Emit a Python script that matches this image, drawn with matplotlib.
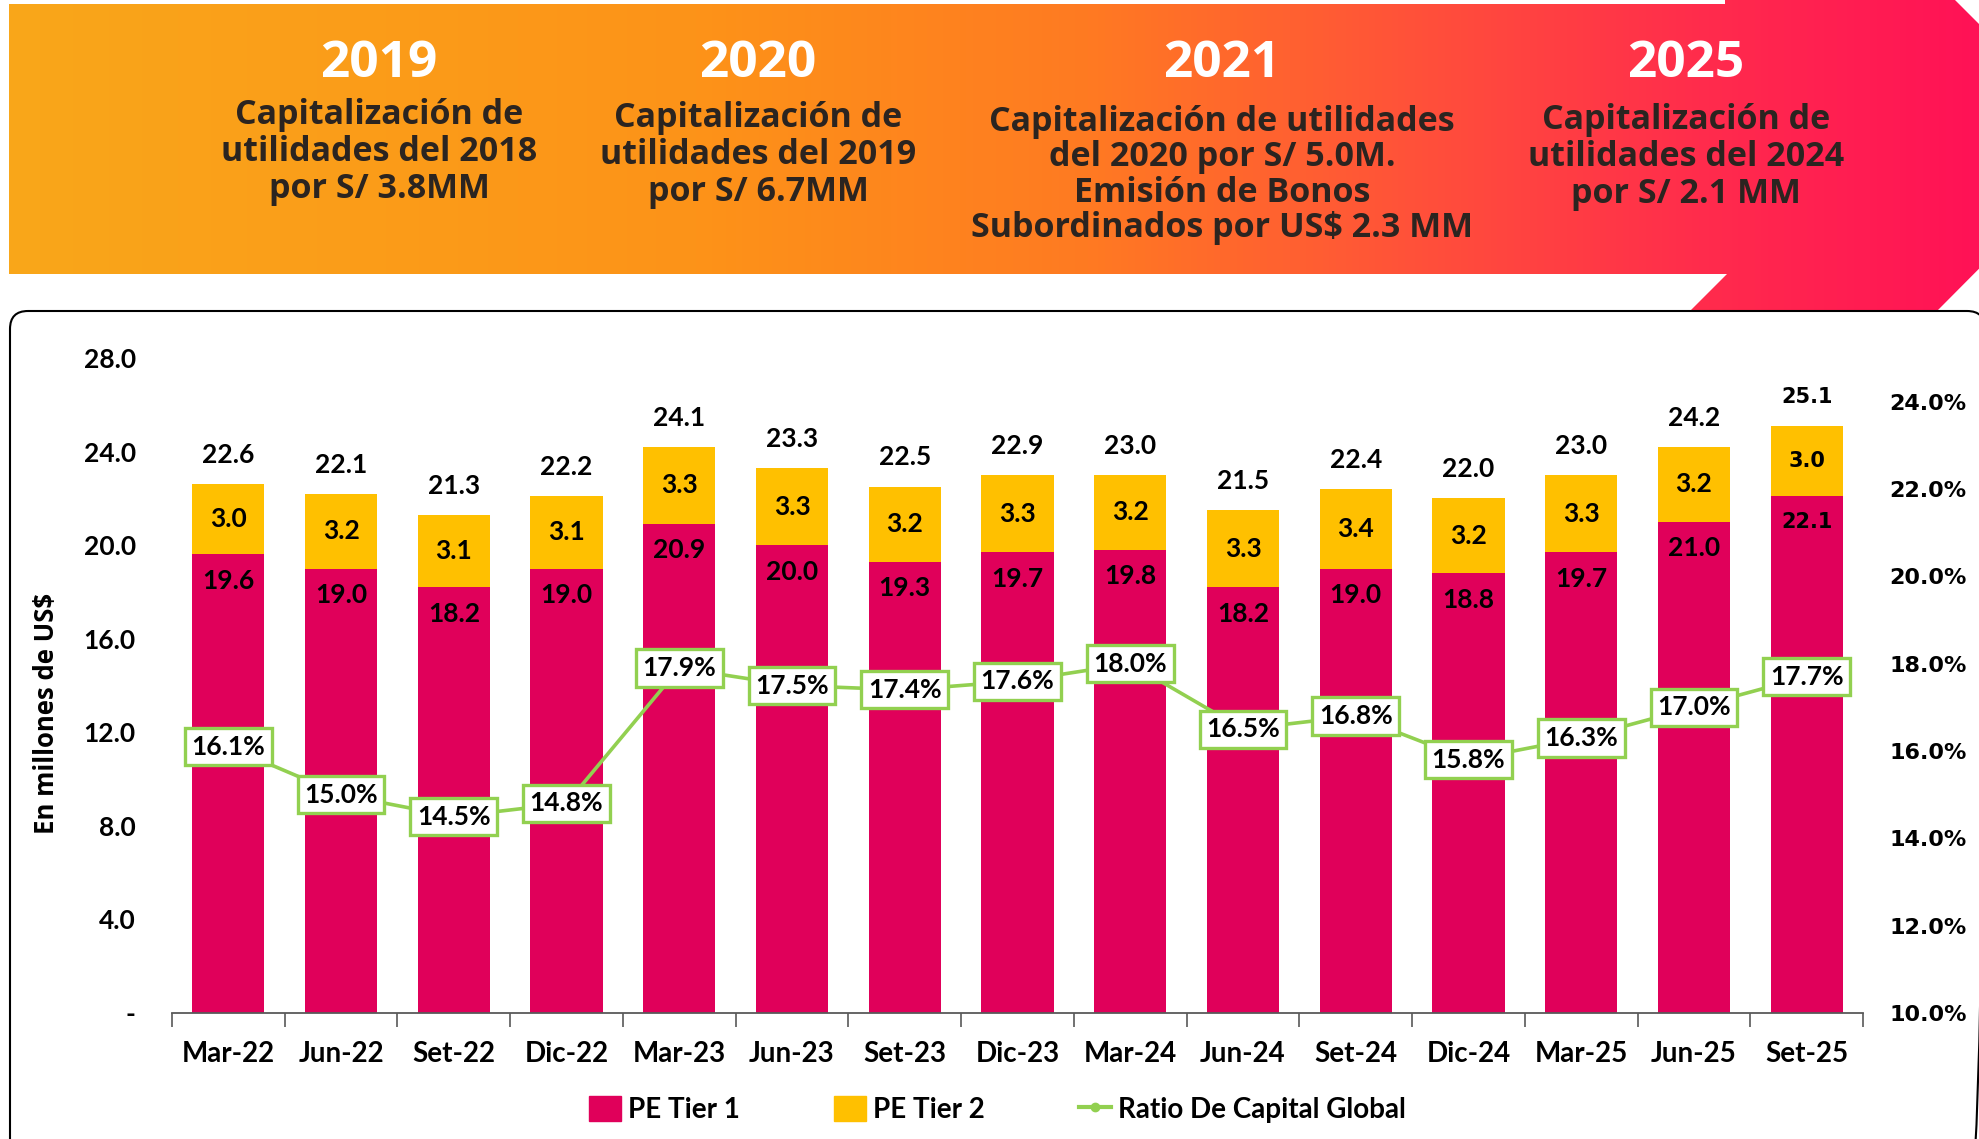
import numpy as np
import matplotlib
matplotlib.use('Agg')
import matplotlib.pyplot as plt
from matplotlib.patches import Polygon, FancyBboxPatch, Patch
from matplotlib.lines import Line2D
from matplotlib.colors import LinearSegmentedColormap

plt.rcParams['font.family'] = ['Lato', 'DejaVu Sans']
plt.rcParams['font.weight'] = 'bold'

# datos
periodos = ['Mar-22', 'Jun-22', 'Set-22', 'Dic-22', 'Mar-23', 'Jun-23', 'Set-23', 'Dic-23',
            'Mar-24', 'Jun-24', 'Set-24', 'Dic-24', 'Mar-25', 'Jun-25', 'Set-25']
tier1 = [19.6, 19.0, 18.2, 19.0, 20.9, 20.0, 19.3, 19.7, 19.8, 18.2, 19.0, 18.8, 19.7, 21.0, 22.1]
tier2 = [3.0, 3.2, 3.1, 3.1, 3.3, 3.3, 3.2, 3.3, 3.2, 3.3, 3.4, 3.2, 3.3, 3.2, 3.0]
total = [22.6, 22.1, 21.3, 22.2, 24.1, 23.3, 22.5, 22.9, 23.0, 21.5, 22.4, 22.0, 23.0, 24.2, 25.1]
ratio = [16.1, 15.0, 14.5, 14.8, 17.9, 17.5, 17.4, 17.6, 18.0, 16.5, 16.8, 15.8, 16.3, 17.0, 17.7]

hitos_anio = ['2019', '2020', '2021', '2025']
hitos_texto = ['Capitalización de\nutilidades del 2018\npor S/ 3.8MM',
               'Capitalización de\nutilidades del 2019\npor S/ 6.7MM',
               'Capitalización de utilidades\ndel 2020 por S/ 5.0M.\nEmisión de Bonos\nSubordinados por US$ 2.3 MM',
               'Capitalización de\nutilidades del 2024\npor S/ 2.1 MM']

izq_ticks = [0, 4, 8, 12, 16, 20, 24, 28]
izq_labels = ['-', '4.0', '8.0', '12.0', '16.0', '20.0', '24.0', '28.0']
der_ticks = [10, 12, 14, 16, 18, 20, 22, 24]

ROJO = '#E0005A'
AMARILLO = '#FFC000'
VERDE = '#92D050'

W, H = 1979, 1139
fig = plt.figure(figsize=(W / 100, H / 100), dpi=100)

# capa de fondo (banner y marco) en pixeles
ov = fig.add_axes([0, 0, 1, 1])
ov.set_xlim(0, W)
ov.set_ylim(H, 0)
ov.axis('off')
ov.set_zorder(0)

pts = [(9, 4), (1725, 4), (1725, 0), (1955, 0), (2101, 146), (1937, 311),
       (1690, 311), (1727, 274), (9, 274)]
forma = Polygon(pts, closed=True, fc='none', ec='none')
ov.add_patch(forma)
cmap = LinearSegmentedColormap.from_list('banner', [
    (0.0, '#F9A71A'), (0.35, '#FD9318'), (0.55, '#FF7A22'),
    (0.72, '#FF503A'), (0.86, '#FF2C4C'), (1.0, '#FF1256')])
grad = np.linspace(0, 1, 600).reshape(1, -1)
im = ov.imshow(grad, cmap=cmap, extent=(0, W, 320, 0), aspect='auto', zorder=1)
im.set_clip_path(forma)

xs = [379, 758, 1222, 1686]
ys_bloque = [152, 155, 175, 157]
interlineado = [1.13, 1.13, 1.06, 1.13]
for xc, yc, ls, anio, txt in zip(xs, ys_bloque, interlineado, hitos_anio, hitos_texto):
    ov.text(xc, 64, anio, color='white', fontsize=37, fontweight='bold',
            family='Open Sans', ha='center', va='center', zorder=3)
    ov.text(xc, yc, txt, color='#2b2420', fontsize=24.5, fontweight='bold',
            family='Open Sans', ha='center', va='center', linespacing=ls, zorder=3)

marco = FancyBboxPatch((10, 311), 1975, 900, boxstyle='round,pad=0,rounding_size=18',
                       fc='none', ec='black', lw=1.5, zorder=2)
ov.add_patch(marco)

# grafico principal
ax = fig.add_axes([0.0869, 0.1106, 0.9414 - 0.0869, 0.6857 - 0.1106])
ax.set_zorder(1)
ax.patch.set_visible(False)
x = np.arange(len(periodos))
ax.bar(x, tier1, width=0.64, color=ROJO, zorder=2)
ax.bar(x, tier2, width=0.64, bottom=tier1, color=AMARILLO, zorder=2)

for i in range(len(periodos)):
    fam = ['DejaVu Sans'] if i == len(periodos) - 1 else ['Lato', 'DejaVu Sans']
    fs = 15 if i == len(periodos) - 1 else 19
    tope = tier1[i] + tier2[i]
    ax.annotate(f'{total[i]:.1f}', (x[i], tope), xytext=(0, 21), textcoords='offset points',
                ha='center', va='center', fontsize=fs, family=fam, fontweight='bold')
    ax.text(x[i], tier1[i] + tier2[i] / 2, f'{tier2[i]:.1f}', ha='center', va='center',
            fontsize=fs, family=fam, fontweight='bold')
    ax.annotate(f'{tier1[i]:.1f}', (x[i], tier1[i]), xytext=(0, -19), textcoords='offset points',
                ha='center', va='center', fontsize=fs, family=fam, fontweight='bold')

ax.set_xlim(-0.5, len(periodos) - 0.5)
ax.set_ylim(0, 28)
ax.set_yticks(izq_ticks)
ax.set_yticklabels(izq_labels)
ax.set_xticks(x)
ax.set_xticklabels(periodos)
ax.set_xticks(np.arange(-0.5, len(periodos), 1), minor=True)
ax.tick_params(axis='x', which='major', length=0, pad=20, labelsize=20)
ax.tick_params(axis='x', which='minor', length=10, width=1.2, color='#595959')
ax.tick_params(axis='y', length=0, pad=26, labelsize=19)
for s in ['top', 'right', 'left']:
    ax.spines[s].set_visible(False)
ax.spines['bottom'].set_color('#595959')
ax.spines['bottom'].set_linewidth(1.3)

ax2 = ax.twinx()
ax2.set_zorder(2)
ax2.patch.set_visible(False)
ax2.plot(x, ratio, color=VERDE, lw=2.6, marker='o', ms=5, zorder=2)
ax2.set_ylim(10, 25)
ax2.set_yticks(der_ticks)
ax2.set_yticklabels([f'{t:.1f}%' for t in der_ticks], family='DejaVu Sans',
                    fontweight='bold', fontsize=16)
ax2.tick_params(axis='y', length=0, pad=19)
for s in ax2.spines.values():
    s.set_visible(False)
for i, r in enumerate(ratio):
    ax2.text(x[i], r, f'{r:.1f}%', ha='center', va='center', fontsize=19, fontweight='bold',
             zorder=4, bbox=dict(boxstyle='square,pad=0.25', fc='white', ec=VERDE, lw=2.4))

fig.text(47 / W, 1 - 713 / H, 'En millones de US$', rotation=90, ha='center', va='center',
         fontsize=18.5, fontweight='bold', family='Open Sans')

handles = [Patch(color=ROJO), Patch(color=AMARILLO),
           Line2D([], [], color=VERDE, lw=3, marker='o', ms=6)]
fig.legend(handles, ['PE Tier 1', 'PE Tier 2', 'Ratio De Capital Global'], loc='center',
           bbox_to_anchor=(0.504, 0.026), ncol=3, frameon=False, fontsize=20,
           handlelength=1.15, handleheight=1.0, handletextpad=0.25, columnspacing=3.4)

fig.savefig('out.png', dpi=100)
